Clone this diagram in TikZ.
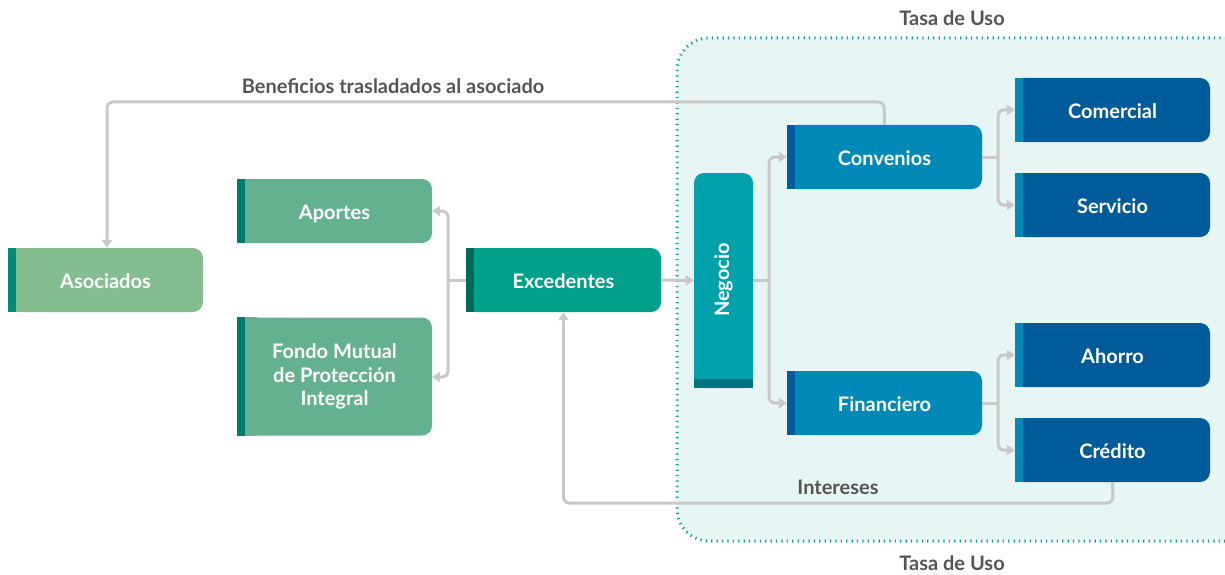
\documentclass[tikz,border=0pt]{standalone}
\usepackage{fontspec}
\setmainfont{Lato}
\usetikzlibrary{arrows.meta}
\definecolor{asocF}{HTML}{84BD8F}
\definecolor{asocB}{HTML}{008A78}
\definecolor{aporF}{HTML}{64B18F}
\definecolor{aporB}{HTML}{007A6C}
\definecolor{excF}{HTML}{00A08A}
\definecolor{excB}{HTML}{006B5B}
\definecolor{negF}{HTML}{00A1AB}
\definecolor{negB}{HTML}{00757F}
\definecolor{midF}{HTML}{0089B7}
\definecolor{midB}{HTML}{005C9B}
\definecolor{endF}{HTML}{005B9A}
\definecolor{endB}{HTML}{0089B7}
\definecolor{regF}{HTML}{E8F5F5}
\definecolor{regD}{HTML}{0F9F96}
\definecolor{conn}{HTML}{C8C8C8}
\definecolor{lbl}{HTML}{555555}
\tikzset{
  box/.style={rounded corners=10pt, minimum width=195pt, minimum height=64pt,
    inner sep=0pt, text=white, font=\fontsize{20}{23.5}\selectfont\bfseries, align=center,
    text height=17pt, text depth=0pt},
  lab/.style={text=lbl, font=\fontsize{20}{24}\selectfont\bfseries, inner sep=0pt},
  link/.style={draw=conn, line width=3pt, rounded corners=6pt,
    -{Triangle[length=8pt,width=10pt]}},
  plain/.style={draw=conn, line width=3pt, rounded corners=6pt}
}
\begin{document}
\begin{tikzpicture}[x=1pt,y=-1pt]
\path[clip] (0,0) rectangle (1225,575);
% region
\fill[regF, rounded corners=32pt] (677,38) rectangle (1260,541);
\draw[regD, line width=3pt, dash pattern=on 1.2pt off 4.2pt, rounded corners=32pt] (677,38) rectangle (1260,541);
\node[lab] (tasaT) at (952,18) {Tasa de Uso};
\node[lab] (tasaB) at (952,563) {Tasa de Uso};
% boxes
\node[box, fill=asocF] (asoc) at (105.5,280) {Asociados};
\node[box, fill=aporF] (apor) at (334.5,211) {Aportes};
\node[box, fill=aporF, minimum height=118pt, text height=, text depth=] (fondo) at (334.5,376.5) {Fondo Mutual\\de Protección\\Integral};
\node[box, fill=excF] (exc) at (563.5,280) {Excedentes};
\node[box, fill=negF, minimum width=59pt, minimum height=215pt] (neg) at (723.5,280.5) {};
\node[text=white, font=\fontsize{20}{23}\selectfont\bfseries, rotate=90, inner sep=0pt] (negt) at (723.5,280) {Negocio};
\node[box, fill=midF] (conv) at (884.5,157) {Convenios};
\node[box, fill=midF] (fin) at (884.5,403) {Financiero};
\node[box, fill=endF] (com) at (1112.5,110) {Comercial};
\node[box, fill=endF] (serv) at (1112.5,205) {Servicio};
\node[box, fill=endF] (aho) at (1112.5,355) {Ahorro};
\node[box, fill=endF] (cred) at (1112.5,450) {Crédito};
% square left corners and left bars
\foreach \n/\f/\b in {asoc/asocF/asocB, apor/aporF/aporB, fondo/aporF/aporB, exc/excF/excB,
  conv/midF/midB, fin/midF/midB, com/endF/endB, serv/endF/endB, aho/endF/endB, cred/endF/endB}{
  \fill[\f] (\n.south west) rectangle ([xshift=20pt]\n.north west);
  \fill[\b] (\n.south west) rectangle ([xshift=8pt]\n.north west);
}
\fill[negF] (neg.south west) rectangle ([yshift=20pt]neg.south east);
\fill[negB] (neg.south west) rectangle ([yshift=9pt]neg.south east);
% connectors
\coordinate (ej) at (448,280);
\draw[plain] (exc.west) -- (ej);
\draw[link] (ej) |- (apor.east);
\draw[link] (ej) |- (fondo.east |- 0,377);
\draw[link] (exc.east) -- (neg.west);
\coordinate (nj) at (769,280);
\draw[plain] (neg.east |- nj) -- (nj);
\draw[link] (nj) |- (conv.west);
\draw[link] (nj) |- (fin.west);
\coordinate (cj) at (998,157);
\draw[plain] (conv.east) -- (cj);
\draw[link] (cj) |- (com.west);
\draw[link] (cj) |- (serv.west);
\coordinate (fj) at (998,403);
\draw[plain] (fin.east) -- (fj);
\draw[link] (fj) |- (aho.west);
\draw[link] (fj) |- (cred.west);
% benefits
\coordinate (bt) at (884,102);
\draw[link] (conv.north) -- (bt) -| (asoc.north -| 107,0);
\node[lab] (benl) at (393,86) {Beneficios trasladados al asociado};
% intereses
\coordinate (ib) at (1113,503);
\draw[link] (cred.south) -- (ib) -| (exc.south);
\node[lab] (intl) at (838,487) {Intereses};
\end{tikzpicture}
\end{document}
